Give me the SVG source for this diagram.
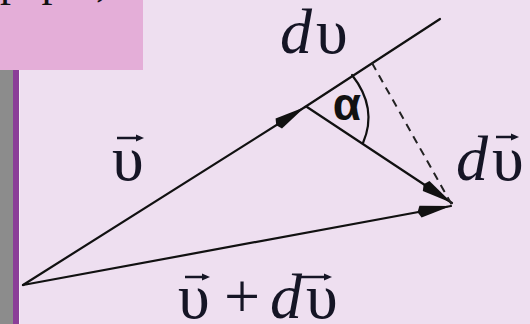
<svg xmlns="http://www.w3.org/2000/svg" width="530" height="324" viewBox="0 0 530 324">
<style>
.ln{stroke:#111;stroke-width:2.2;fill:none;stroke-linecap:round}
.ds{stroke:#222;stroke-width:2;fill:none;stroke-dasharray:8 6}
.lbl{font-family:"Liberation Serif","DejaVu Serif",serif;font-size:64px;fill:#151525}
.it{font-style:italic}
.va{stroke:#151525;stroke-width:2.5;fill:none}
.vh{fill:#151525}
</style>
<defs>
<marker id="ah" markerUnits="userSpaceOnUse" markerWidth="36" markerHeight="16" refX="34" refY="8" orient="auto">
<path d="M0,8 L3,2 L34,8 L3,14 Z" fill="#111"/>
</marker>
</defs>
<rect width="530" height="324" fill="#EEDFF0"/>
<rect x="0" y="0" width="143" height="70" fill="#E4AED8"/>
<text x="0" y="-4" font-family="'Liberation Serif',serif" font-size="44" fill="#111">paper,</text>
<rect x="0" y="70" width="13" height="254" fill="#8C8C8C"/>
<rect x="13" y="70" width="6" height="254" fill="#8B3F98"/>
<rect x="19" y="70" width="1" height="254" fill="#F6EEF7"/>

<g id="connectors">
<line class="ln" x1="23" y1="285" x2="305" y2="107" marker-end="url(#ah)"/>
<line class="ln" x1="305" y1="107" x2="440" y2="19"/>
<line class="ln" x1="23" y1="285" x2="451" y2="206" marker-end="url(#ah)"/>
<line class="ln" x1="307" y1="107" x2="452" y2="203" marker-end="url(#ah)"/>
<line class="ds" x1="372" y1="63" x2="452" y2="205"/>
<path class="ln" d="M352,75 Q378,108 363,143"/>
</g>

<g id="alpha">
<text x="347" y="120" text-anchor="middle" font-family="'Liberation Sans',Arial,sans-serif" font-weight="bold" font-size="46" fill="#111">α</text>
</g>

<g id="label-dv-top">
<text class="lbl" x="280" y="53"><tspan class="it">d</tspan><tspan x="316">υ</tspan></text>
</g>

<g id="label-v">
<text class="lbl" x="112" y="180">υ</text>
<line class="va" x1="117" y1="138" x2="138" y2="138"/>
<path class="vh" d="M136,134.5 L144,138 L136,141.5 Z"/>
</g>

<g id="label-dv-right">
<text class="lbl" x="456" y="180"><tspan class="it">d</tspan><tspan x="492">υ</tspan></text>
<line class="va" x1="496" y1="137" x2="513" y2="137"/>
<path class="vh" d="M511,133.5 L519,137 L511,140.5 Z"/>
</g>

<g id="label-sum">
<text class="lbl" x="178" y="318">υ<tspan x="224">+</tspan><tspan x="270" class="it">d</tspan><tspan x="306">υ</tspan></text>
<line class="va" x1="185" y1="277" x2="204" y2="277"/>
<path class="vh" d="M202,273.5 L210,277 L202,280.5 Z"/>
<line class="va" x1="299" y1="277" x2="326" y2="277"/>
<path class="vh" d="M324,273.5 L332,277 L324,280.5 Z"/>
</g>
</svg>
